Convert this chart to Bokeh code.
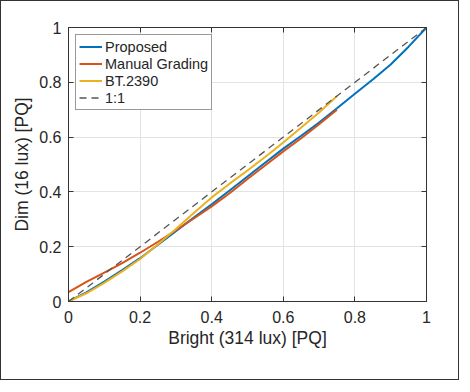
from bokeh.plotting import figure
from bokeh.models import LinearAxis, FixedTicker, Range1d, Legend, LegendItem, CustomLabelingPolicy
from bokeh.embed import file_html
from bokeh.resources import INLINE

# ---- data ----
x_prop = [0, 0.05, 0.1, 0.15, 0.2, 0.25, 0.3, 0.35, 0.4, 0.45, 0.5, 0.55, 0.6, 0.65, 0.7, 0.75, 0.8, 0.85, 0.9, 0.95, 1.0]
y_prop = [0, 0.033, 0.073, 0.115, 0.158, 0.207, 0.257, 0.306, 0.355, 0.405, 0.456, 0.507, 0.558, 0.605, 0.653, 0.705, 0.758, 0.81, 0.865, 0.93, 1.0]

x_manual = [0, 0.05, 0.1, 0.15, 0.2, 0.25, 0.3, 0.35, 0.4, 0.45, 0.5, 0.55, 0.6, 0.65, 0.7, 0.75]
y_manual = [0.034, 0.072, 0.105, 0.14, 0.178, 0.218, 0.26, 0.303, 0.347, 0.395, 0.447, 0.497, 0.548, 0.596, 0.647, 0.70]

x_bt = [0, 0.05, 0.1, 0.15, 0.2, 0.25, 0.3, 0.35, 0.4, 0.45, 0.5, 0.55, 0.6, 0.65, 0.7, 0.75]
y_bt = [0, 0.03, 0.068, 0.11, 0.155, 0.209, 0.265, 0.323, 0.38, 0.43, 0.478, 0.528, 0.58, 0.635, 0.69, 0.75]

x_id = [0, 1]
y_id = [0, 1]

ticks = [0, 0.2, 0.4, 0.6, 0.8, 1]
tick_labels = ["0", "0.2", "0.4", "0.6", "0.8", "1"]

names = ["Proposed", "Manual Grading", "BT.2390", "1:1"]
colors = ["#0072BD", "#D95319", "#EDB120", "#555555"]

FONT = "Liberation Sans"
TXT = "#262626"

p = figure(width=459, height=380, output_backend="svg", toolbar_location=None,
           x_range=Range1d(0, 1), y_range=Range1d(0, 1),
           min_border_left=67, min_border_right=34, min_border_top=26, min_border_bottom=80)
p.styles = {"border": "1.5px solid #333333", "box-sizing": "border-box"}

overrides = {t: l for t, l in zip(ticks, tick_labels)}
for ax in (p.xaxis[0], p.yaxis[0]):
    ax.ticker = FixedTicker(ticks=ticks)
    ax.major_label_overrides = overrides
    ax.major_tick_in = 5
    ax.major_tick_out = 0
    ax.minor_tick_in = 0
    ax.minor_tick_out = 0
    ax.axis_line_color = "#333333"
    ax.major_tick_line_color = "#333333"
    ax.major_label_text_font = FONT
    ax.major_label_text_font_size = "16px"
    ax.major_label_text_color = TXT
    ax.axis_label_text_font = FONT
    ax.axis_label_text_font_size = "17.5px"
    ax.axis_label_text_font_style = "normal"
    ax.axis_label_text_color = TXT

p.xaxis[0].axis_label = "Bright (314 lux) [PQ]"
p.yaxis[0].axis_label = "Dim (16 lux) [PQ]"
p.xaxis[0].major_label_standoff = 9
p.xaxis[0].axis_label_standoff = 2
p.yaxis[0].major_label_standoff = 7
p.yaxis[0].axis_label_standoff = 4

hide_all = CustomLabelingPolicy(code="""
const all = [...indices]
for (const i of all) indices.unset(i)
return indices
""")

for loc in ("above", "right"):
    ax = LinearAxis(ticker=FixedTicker(ticks=ticks), major_tick_in=5, major_tick_out=0,
                    minor_tick_in=0, minor_tick_out=0,
                    axis_line_color="#333333", major_tick_line_color="#333333",
                    major_label_policy=hide_all, major_label_standoff=0)
    p.add_layout(ax, loc)

p.outline_line_color = "#333333"
p.xgrid.ticker = FixedTicker(ticks=ticks)
p.ygrid.ticker = FixedTicker(ticks=ticks)
p.xgrid.grid_line_color = "#e3e3e3"
p.ygrid.grid_line_color = "#e3e3e3"

r1 = p.line(x_prop, y_prop, line_color=colors[0], line_width=2)
r2 = p.line(x_manual, y_manual, line_color=colors[1], line_width=2)
r3 = p.line(x_bt, y_bt, line_color=colors[2], line_width=2)
r4 = p.line(x_id, y_id, line_color=colors[3], line_width=1.3, line_dash="7 5")

legend = Legend(items=[LegendItem(label=n, renderers=[r]) for n, r in zip(names, [r1, r2, r3, r4])],
                location="top_left")
legend.margin = 7
legend.padding = 3
legend.spacing = 0
legend.label_height = 17
legend.glyph_height = 17
legend.glyph_width = 23
legend.label_standoff = 3
legend.label_text_font = FONT
legend.label_text_font_size = "14.5px"
legend.label_text_color = TXT
legend.border_line_color = "#333333"
legend.border_line_width = 1
legend.background_fill_alpha = 1
p.add_layout(legend)

open("out.html", "w").write(file_html(p, INLINE))
